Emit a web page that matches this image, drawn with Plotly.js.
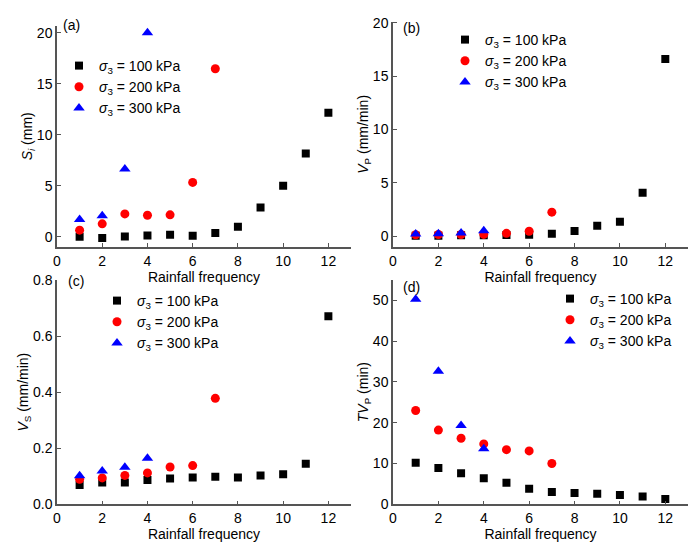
<!DOCTYPE html>
<html>
<head>
<meta charset="utf-8">
<script src="https://cdn.plot.ly/plotly-3.0.1.min.js"></script>
<style>body{margin:0;background:#fff}</style>
</head>
<body>
<div id="chart" style="width:700px;height:550px"></div>
<script>
// rainfall frequency for each confining pressure
const freq100 = [1, 2, 3, 4, 5, 6, 7, 8, 9, 10, 11, 12];
const freq200 = [1, 2, 3, 4, 5, 6, 7];
const freq300 = [1, 2, 3, 4];

// (a) S_i (mm)
const si100 = [0.0, -0.13, 0.03, 0.13, 0.2, 0.1, 0.36, 0.98, 2.86, 5.0, 8.16, 12.16];
const si200 = [0.65, 1.27, 2.24, 2.11, 2.15, 5.33, 16.46];
const si300 = [1.7, 2.05, 6.65, 20.0];

// (b) V_P (mm/min)
const vp100 = [0.06, 0.06, 0.1, 0.1, 0.13, 0.15, 0.25, 0.5, 0.99, 1.36, 4.09, 16.6];
const vp200 = [0.15, 0.17, 0.17, 0.18, 0.28, 0.47, 2.26];
const vp300 = [0.22, 0.25, 0.3, 0.52];

// (c) V_S (mm/min)
const vs100 = [0.069, 0.078, 0.078, 0.087, 0.092, 0.096, 0.098, 0.096, 0.103, 0.107, 0.145, 0.671];
const vs200 = [0.089, 0.094, 0.103, 0.112, 0.133, 0.138, 0.378];
const vs300 = [0.102, 0.119, 0.132, 0.164];

// (d) TV_P (min)
const tvp100 = [10.2, 8.9, 7.6, 6.4, 5.3, 3.8, 3.0, 2.8, 2.6, 2.3, 1.9, 1.3];
const tvp200 = [23.0, 18.2, 16.2, 14.8, 13.4, 13.1, 10.0];
const tvp300 = [50.3, 32.6, 19.3, 13.6];

const seriesNames = ['<i>σ</i><sub>3</sub> = 100 kPa', '<i>σ</i><sub>3</sub> = 200 kPa', '<i>σ</i><sub>3</sub> = 300 kPa'];

const FONT = 'Arial, "Liberation Sans", sans-serif';
const AXCOL = '#555';

function makeTraces(ys, xa, ya, legendId){
    const xs = [freq100, freq200, freq300];
    const markers = [
        {symbol: 'square', size: 8, color: '#000000'},
        {symbol: 'circle', size: 9, color: '#ff0000'},
        {symbol: 'triangle-up', size: 10, color: '#0000ff'}
    ];
    return ys.map(function(y, i){
        return {
            x: xs[i],
            y: y,
            xaxis: xa,
            yaxis: ya,
            name: seriesNames[i],
            legend: legendId,
            mode: 'markers',
            type: 'scatter',
            marker: markers[i],
            hoverinfo: 'none'
        };
    });
}

let data = [];
data = data.concat(makeTraces([si100, si200, si300], 'x', 'y', 'legend'));
data = data.concat(makeTraces([vp100, vp200, vp300], 'x2', 'y2', 'legend2'));
data = data.concat(makeTraces([vs100, vs200, vs300], 'x3', 'y3', 'legend3'));
data = data.concat(makeTraces([tvp100, tvp200, tvp300], 'x4', 'y4', 'legend4'));

function xAxis(dom, anchor){
    return {
        domain: dom,
        anchor: anchor,
        range: [0, 13],
        dtick: 2,
        tick0: 0,
        ticks: 'inside',
        ticklen: 4,
        tickcolor: AXCOL,
        showline: true,
        linecolor: AXCOL,
        linewidth: 1.5,
        showgrid: false,
        zeroline: false,
        tickfont: {size: 14, color: '#000'},
        title: {text: 'Rainfall frequency', font: {size: 14, color: '#000'}, standoff: 4}
    };
}

function yAxis(dom, anchor, range, dtick, title, fmt){
    return {
        domain: dom,
        anchor: anchor,
        range: range,
        dtick: dtick,
        tick0: 0,
        tickformat: fmt || '',
        ticks: 'inside',
        ticklen: 4,
        tickcolor: AXCOL,
        showline: true,
        linecolor: AXCOL,
        linewidth: 1.5,
        showgrid: false,
        zeroline: false,
        tickfont: {size: 14, color: '#000'},
        title: {text: title, font: {size: 14, color: '#000'}, standoff: 0}
    };
}

const colL = [57 / 700, 351 / 700];
const colR = [393 / 700, 688 / 700];
const rowTopA = [1 - 247 / 550, 1 - 25.5 / 550];
const rowTopB = [1 - 247 / 550, 1 - 21.7 / 550];
const rowBot = [1 - 504.3 / 550, 1 - 280 / 550];

function legendAt(x, y){
    return {
        x: x, y: y, xanchor: 'left', yanchor: 'top',
        bgcolor: 'rgba(0,0,0,0)',
        font: {size: 14, color: '#000', family: FONT},
        itemwidth: 30,
        tracegroupgap: 0
    };
}

function panelLabel(text, x, y){
    return {
        text: text, xref: 'paper', yref: 'paper',
        x: x, y: y, xanchor: 'left', yanchor: 'middle',
        showarrow: false, font: {size: 14, color: '#000'}
    };
}

const LAYOUT = {
    width: 700,
    height: 550,
    autosize: false,
    margin: {l: 0, r: 0, t: 0, b: 0},
    paper_bgcolor: '#fff',
    plot_bgcolor: '#fff',
    font: {family: FONT, size: 14, color: '#000'},
    showlegend: true,
    xaxis: xAxis(colL, 'y'),
    yaxis: yAxis(rowTopA, 'x', [-1, 20.7], 5, '<i>S<sub>i</sub></i> (mm)'),
    xaxis2: xAxis(colR, 'y2'),
    yaxis2: yAxis(rowTopB, 'x2', [-1, 20.1], 5, '<i>V</i><sub>P</sub> (mm/min)'),
    xaxis3: xAxis(colL, 'y3'),
    yaxis3: yAxis(rowBot, 'x3', [0, 0.8], 0.2, '<i>V</i><sub>S</sub> (mm/min)', '.1f'),
    xaxis4: xAxis(colR, 'y4'),
    yaxis4: yAxis(rowBot, 'x4', [0, 55], 10, '<i>TV</i><sub>P</sub> (min)'),
    legend: legendAt(59 / 700, 1 - 50 / 550),
    legend2: legendAt(445 / 700, 1 - 24 / 550),
    legend3: legendAt(97 / 700, 1 - 285 / 550),
    legend4: legendAt(550 / 700, 1 - 283 / 550),
    annotations: [
        panelLabel('(a)', 61 / 700, 1 - 25 / 550),
        panelLabel('(b)', 401 / 700, 1 - 28 / 550),
        panelLabel('(c)', 66 / 700, 1 - 281 / 550),
        panelLabel('(d)', 401 / 700, 1 - 287 / 550)
    ]
};

Plotly.newPlot('chart', data, LAYOUT, {displayModeBar: false, responsive: false});
</script>
</body>
</html>
